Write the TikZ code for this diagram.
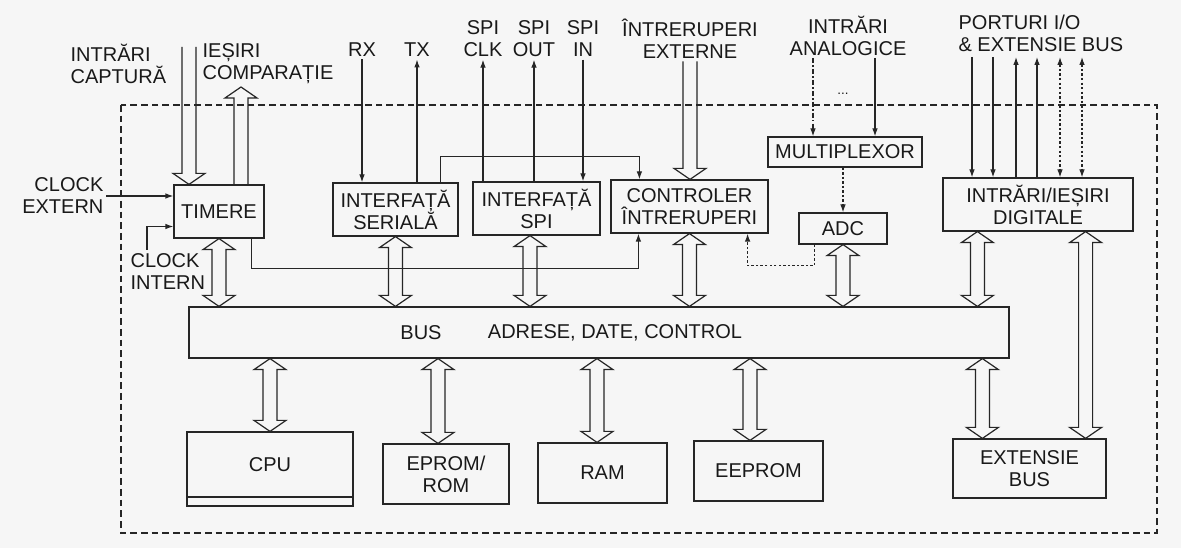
\documentclass[tikz,border=0pt]{standalone}
\usepackage{fontspec}
\setmainfont{Liberation Sans}
\usetikzlibrary{arrows.meta,calc}
% hollow (outline) arrows, vertical
\newcommand{\vdblarrow}[2]{% #1 upper end, #2 lower end
  \draw[hollow] let \p1=#1, \p2=#2 in
    (\x1,\y1) -- ({\x1+12pt},{\y1-8.25pt}) -- ({\x1+5.25pt},{\y1-8.25pt})
    -- ({\x1+5.25pt},{\y2+8.25pt}) -- ({\x1+12pt},{\y2+8.25pt}) -- (\x1,\y2)
    -- ({\x1-12pt},{\y2+8.25pt}) -- ({\x1-5.25pt},{\y2+8.25pt})
    -- ({\x1-5.25pt},{\y1-8.25pt}) -- ({\x1-12pt},{\y1-8.25pt}) -- cycle;}
\newcommand{\vdownarrow}[2]{% #1 open top, #2 tip
  \draw[hollow] let \p1=#1, \p2=#2 in
    ({\x1-5.25pt},\y1) -- ({\x1-5.25pt},{\y2+8.25pt}) -- ({\x1-12pt},{\y2+8.25pt})
    -- (\x1,\y2) -- ({\x1+12pt},{\y2+8.25pt}) -- ({\x1+5.25pt},{\y2+8.25pt})
    -- ({\x1+5.25pt},\y1);}
\newcommand{\vuparrow}[2]{% #1 open bottom, #2 tip
  \draw[hollow] let \p1=#1, \p2=#2 in
    ({\x1-5.25pt},\y1) -- ({\x1-5.25pt},{\y2-8.25pt}) -- ({\x1-12pt},{\y2-8.25pt})
    -- (\x1,\y2) -- ({\x1+12pt},{\y2-8.25pt}) -- ({\x1+5.25pt},{\y2-8.25pt})
    -- ({\x1+5.25pt},\y1);}
\begin{document}
\begin{tikzpicture}[x=0.75pt,y=-0.75pt,
  line width=0.9pt, color=black!85,
  >={Latex[length=6pt,width=4.2pt]},
  every node/.style={font=\fontsize{15}{16.5}\selectfont, text=black!90},
  box/.style={draw, inner sep=0pt, align=center},
  lbl/.style={inner sep=1.5pt, align=center},
  hollow/.style={line width=0.9pt, line join=miter},
  frame/.style={dash pattern=on 5pt off 3pt, line width=0.8pt},
  finedots/.style={dash pattern=on 1.8pt off 1.6pt},
  dashdot/.style={dash pattern=on 4pt off 1.6pt on 1pt off 1.6pt},
]
\fill[gray!7] (0,0) rectangle (1181,548);
\useasboundingbox (0,0) rectangle (1181,548);

% outer frame
\draw[frame] (121,105) rectangle (1157,533);

% blocks
\node[box,minimum width=67.5pt,minimum height=39.75pt] (tim) at (219,211.5) {TIMERE};
\node[box,minimum width=93.75pt,minimum height=39.75pt] (ser) at (395.5,209.5) {INTERFAȚĂ\\SERIALĂ};
\node[box,minimum width=95.25pt,minimum height=39.75pt] (spi) at (536.5,208.5) {INTERFAȚĂ\\SPI};
\node[box,minimum width=117.75pt,minimum height=39.75pt] (ctl) at (689.5,206.5) {CONTROLER\\ÎNTRERUPERI};
\node[box,minimum width=66pt,minimum height=23.25pt] (adc) at (843,228.5) {ADC};
\node[box,minimum width=115.5pt,minimum height=22.5pt] (mux) at (845,152) {MULTIPLEXOR};
\node[box,minimum width=142.5pt,minimum height=39.75pt] (dig) at (1038,204.5) {INTRĂRI/IEȘIRI\\DIGITALE};
\node[box,minimum width=615pt,minimum height=38.25pt] (bus) at (599,332.5) {};
\node[lbl] (busa) at (421,333) {BUS};
\node[lbl] (busb) at (615,333) {ADRESE, DATE, CONTROL};
\node[box,minimum width=124.5pt,minimum height=48.75pt] (cpu) at (270,464.5) {CPU};
\node[box,minimum width=124.5pt,minimum height=6.75pt] (cpub) at (270,501.5) {};
\node[box,minimum width=94.5pt,minimum height=45pt] (rom) at (446,474) {EPROM/\\ROM};
\node[box,minimum width=96.75pt,minimum height=45pt] (ram) at (602.5,473) {RAM};
\node[box,minimum width=96.75pt,minimum height=45pt] (eep) at (758.5,471) {EEPROM};
\node[box,minimum width=114.75pt,minimum height=44.25pt] (ext) at (1029.5,468.5) {EXTENSIE\\BUS};

% outside labels
\node[lbl,align=left,anchor=west] (capt) at (68,64) {INTRĂRI\\CAPTURĂ};
\node[lbl,align=left,anchor=west] (comp) at (200,64) {IEȘIRI\\COMPARAȚIE};
\node[lbl] (rx) at (362,50) {RX};
\node[lbl] (tx) at (417,50) {TX};
\node[lbl] (sclk) at (483,39) {SPI\\CLK};
\node[lbl] (sout) at (534,39) {SPI\\OUT};
\node[lbl] (spin) at (583,39) {SPI\\IN};
\node[lbl] (iext) at (690,39) {ÎNTRERUPERI\\EXTERNE};
\node[lbl] (ana) at (848,36) {INTRĂRI\\ANALOGICE};
\node[lbl,align=left,anchor=west] (port) at (956,33) {PORTURI I/O\\\& EXTENSIE BUS};
\node[lbl,align=right,anchor=east] (cext) at (106,196) {CLOCK\\EXTERN};
\node[lbl,align=left,anchor=west] (cint) at (128,272) {CLOCK\\INTERN};
\node[lbl,font=\fontsize{10}{10}\selectfont] (dots) at (843,94) {...};

% free ends
\coordinate (ca) at (189,47);
\coordinate (co) at (241,87);
\coordinate (ci) at (147,250);
\coordinate (an1) at (813,58);
\coordinate (an2) at (875,58);
\foreach \n/\x in {1/972,2/993,3/1016,4/1037,5/1060,6/1082} \coordinate (p\n) at (\x,57);

% hollow arrows at timers and interrupts
\vdownarrow{(ca)}{(ca |- tim.north)}
\vuparrow{(co |- tim.north)}{(co)}
\vdownarrow{(iext.south)}{(iext.south |- ctl.north)}

% thin signal lines
\draw[->] (rx.south) -- (rx.south |- ser.north);
\draw[<-] (tx.south) -- (tx.south |- ser.north);
\draw[<-] (sclk.south) -- (sclk.south |- spi.north);
\draw[<-] (sout.south) -- (sout.south |- spi.north);
\draw[->] (spin.south) -- (spin.south |- spi.north);
\draw[->] (cext.east) -- (cext.east -| tim.west);
\draw[->] (ci) |- ($(tim.west)+(0,15)$);
\draw[->] ($(tim.south east)+(-13,0)$) -- ++(0,30) -| ($(ctl.south west)+(28,0)$);
\draw[->] ($(ser.north east)+(-18,0)$) -- ++(0,-26) -| ($(ctl.north west)+(29,0)$);
\draw[->,finedots] ($(adc.south west)+(16,0)$) -- ++(0,21) -| ($(ctl.south east)+(-21,0)$);
\draw[->,dashdot] (an1) -- (an1 |- mux.north);
\draw[->] (an2) -- (an2 |- mux.north);
\draw[->,finedots] (mux.south -| adc.north) -- (adc.north);
\draw[->] (p1) -- (p1 |- dig.north);
\draw[->] (p2) -- (p2 |- dig.north);
\draw[<-] (p3) -- (p3 |- dig.north);
\draw[<-] (p4) -- (p4 |- dig.north);
\draw[<->,finedots] (p5) -- (p5 |- dig.north);
\draw[<->,finedots] (p6) -- (p6 |- dig.north);

% bus double arrows
\coordinate (a3) at ($(spi.south)+(-6.5,0)$);
\coordinate (a6) at ($(dig.south west)+(35,0)$);
\coordinate (a7) at ($(dig.south east)+(-48,0)$);
\coordinate (b2) at ($(rom.north)+(-8,0)$);
\coordinate (b3) at ($(ram.north)+(-5.5,0)$);
\coordinate (b4) at ($(eep.north)+(-8.5,0)$);
\coordinate (b5) at ($(ext.north west)+(30,0)$);
\vdblarrow{(tim.south)}{(tim.south |- bus.north)}
\vdblarrow{(ser.south)}{(ser.south |- bus.north)}
\vdblarrow{(a3)}{(a3 |- bus.north)}
\vdblarrow{(ctl.south)}{(ctl.south |- bus.north)}
\vdblarrow{(adc.south)}{(adc.south |- bus.north)}
\vdblarrow{(a6)}{(a6 |- bus.north)}
\vdblarrow{(a7)}{(a7 |- ext.north)}
\vdblarrow{(cpu.north |- bus.south)}{(cpu.north)}
\vdblarrow{(b2 |- bus.south)}{(b2)}
\vdblarrow{(b3 |- bus.south)}{(b3)}
\vdblarrow{(b4 |- bus.south)}{(b4)}
\vdblarrow{(b5 |- bus.south)}{(b5)}
\end{tikzpicture}
\end{document}
